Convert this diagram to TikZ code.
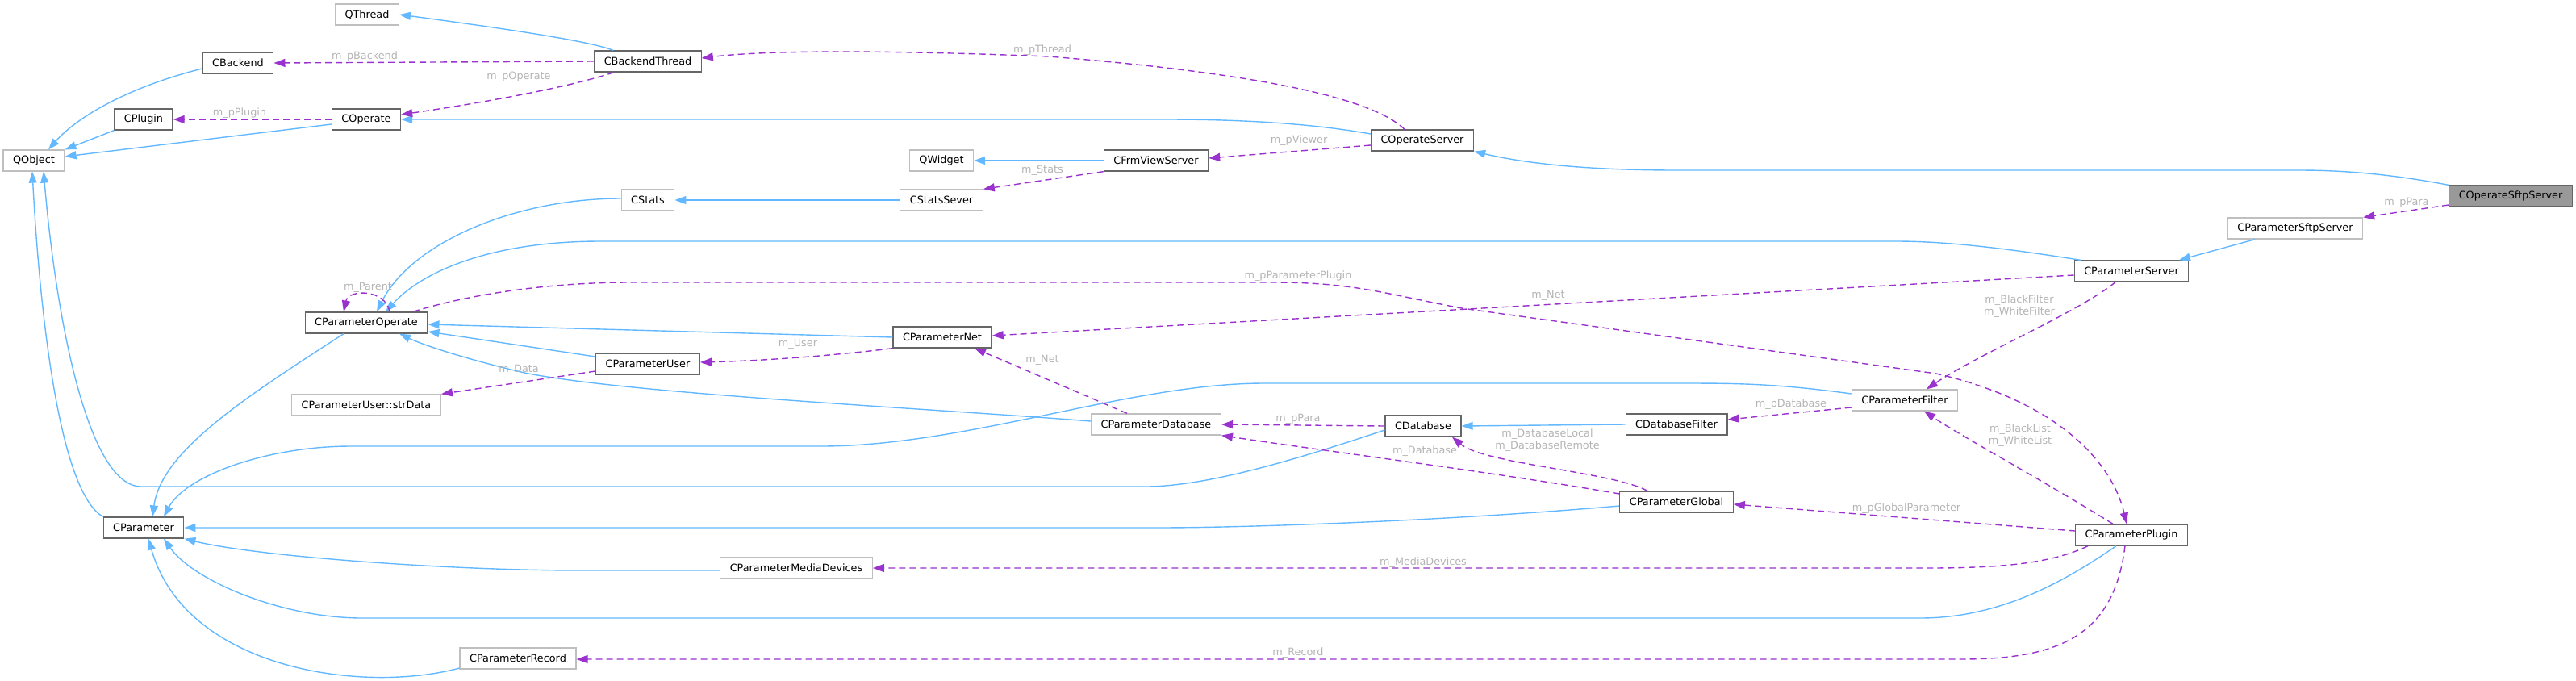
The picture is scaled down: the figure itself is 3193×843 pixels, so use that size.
\documentclass[tikz,border=0pt]{standalone}
\usepackage{fontspec}
\setmainfont{DejaVu Sans}
\usetikzlibrary{arrows.meta}
\definecolor{edgeblue}{HTML}{63B8FF}
\definecolor{edgepurple}{HTML}{9A32CD}
\definecolor{tagcolor}{HTML}{B4B4B4}
\definecolor{darkline}{HTML}{666666}
\definecolor{lightline}{HTML}{BFBFBF}
\definecolor{selffill}{HTML}{999999}

\tikzstyle{box} = [rectangle, draw=lightline, fill=white, line width=0.65pt, minimum height=13pt, inner xsep=6pt, inner ysep=0pt, font=\fontsize{6.4}{7.6}\selectfont]
\tikzstyle{docbox} = [box, draw=darkline]
\tikzstyle{inherit} = [draw=edgeblue, line width=0.7pt, -{Triangle[length=7pt,width=5pt]}]
\tikzstyle{uses} = [draw=edgepurple, line width=0.7pt, dash pattern=on 4pt off 2.5pt, -{Triangle[length=7pt,width=5pt]}]
\tikzstyle{tag} = [text=tagcolor, inner sep=0pt, align=center, font=\fontsize{6.4}{7.6}\selectfont]

\begin{document}
\begin{tikzpicture}[x=0.5pt,y=-0.5pt]
\useasboundingbox (0,0) rectangle (3193,843);

\node (qthread) [box] at (455,18) {QThread};
\node (cbackend) [docbox] at (295,78) {CBackend};
\node (cbackendthread) [docbox] at (803,76) {CBackendThread};
\node (cplugin) [docbox] at (178,148) {CPlugin};
\node (coperate) [docbox] at (454,148) {COperate};
\node (qobject) [box] at (42,199) {QObject};
\node (coperateserver) [docbox] at (1763,174) {COperateServer};
\node (qwidget) [box] at (1167,199) {QWidget};
\node (cfrmviewserver) [docbox] at (1433,199) {CFrmViewServer};
\node (cstatssever) [box] at (1167,248) {CStatsSever};
\node (cstats) [box] at (803,248) {CStats};
\node (coperatesftpserver) [docbox, fill=selffill] at (3112,243) {COperateSftpServer};
\node (cparametersftpserver) [box] at (2845,283) {CParameterSftpServer};
\node (cparameterserver) [docbox] at (2642,336) {CParameterServer};
\node (cparameteroperate) [docbox] at (454,400) {CParameterOperate};
\node (cparameternet) [docbox] at (1168,418) {CParameterNet};
\node (cparameteruser) [docbox] at (803,451) {CParameterUser};
\node (strdata) [box] at (454,502) {CParameterUser::strData};
\node (cparameterfilter) [box] at (2361,496) {CParameterFilter};
\node (cparameterdatabase) [box] at (1433,526) {CParameterDatabase};
\node (cdatabase) [docbox] at (1764,528) {CDatabase};
\node (cdatabasefilter) [docbox] at (2078,526) {CDatabaseFilter};
\node (cparameterglobal) [docbox] at (2078,622) {CParameterGlobal};
\node (cparameter) [docbox] at (178,654) {CParameter};
\node (cparameterplugin) [docbox] at (2642,663) {CParameterPlugin};
\node (cparametermediadevices) [box] at (987,704) {CParameterMediaDevices};
\node (cparameterrecord) [box] at (642,816) {CParameterRecord};

% inheritance
\draw [inherit] (760,0 |- cbackendthread.north) .. controls (730,50) and (600,32) .. (qthread.east);
\draw [inherit] (cbackend.west |- 0,85) .. controls (170,105) and (100,140) .. (60,0 |- qobject.north);
\draw [inherit] (cplugin.south west) -- (qobject.north east);
\draw [inherit] (coperate.west |- 0,154) -- (qobject.east |- 0,194);
\draw [inherit] (coperateserver.west |- 0,166) .. controls (1620,152) and (1530,148) .. (1445,148) -- (coperate.east);
\draw [inherit] (cfrmviewserver.west) -- (qwidget.east);
\draw [inherit] (cstatssever.west) -- (cstats.east);
\draw [inherit] (coperatesftpserver.north west) .. controls (2960,215) and (2900,211) .. (2850,211) -- (2080,211) .. controls (1950,211) and (1880,200) .. (coperateserver.south east);
\draw [inherit] (cstats.west |- 0,246) .. controls (640,246) and (510,300) .. (467,0 |- cparameteroperate.north);
\draw [inherit] (2579,0 |- cparameterserver.north) .. controls (2500,310) and (2420,299) .. (2350,299) -- (740,299) .. controls (600,300) and (520,340) .. (478,0 |- cparameteroperate.north);
\draw [inherit] (cparameternet.west) -- (cparameteroperate.east |- 0,402);
\draw [inherit] (cparameteruser.west |- 0,442) -- (cparameteroperate.east |- 0,411);
\draw [inherit] (cparameterdatabase.west |- 0,522) .. controls (1150,506) and (780,488) .. (650,462) .. controls (590,448) and (530,430) .. (495,0 |- cparameteroperate.south);
\draw [inherit] (2795,0 |- cparametersftpserver.south) -- (2701,0 |- cparameterserver.north);
\draw [inherit] (426,0 |- cparameteroperate.south) .. controls (300,495) and (200,560) .. (189,0 |- cparameter.north);
\draw [inherit] (cparameterfilter.west |- 0,488) .. controls (2200,475) and (2150,475) .. (2080,475) -- (1567,475) .. controls (1400,475) and (1200,553) .. (1017,553) -- (435,553) .. controls (330,553) and (230,590) .. (203,0 |- cparameter.north);
\draw [inherit] (cparameter.north west) .. controls (75,610) and (50,400) .. (40,0 |- qobject.south);
\draw [inherit] (cdatabase.west |- 0,533) .. controls (1620,565) and (1500,603) .. (1420,603) -- (175,603) .. controls (110,603) and (70,400) .. (54,0 |- qobject.south);
\draw [inherit] (cparameterglobal.west |- 0,627) .. controls (1800,645) and (1550,654) .. (1434,654) -- (cparameter.east);
\draw [inherit] (cparametermediadevices.west |- 0,707) -- (720,707) .. controls (560,707) and (320,690) .. (cparameter.south east);
\draw [inherit] (2623,0 |- cparameterplugin.south) .. controls (2560,720) and (2480,766) .. (2380,766) -- (449,766) .. controls (350,766) and (240,720) .. (203,0 |- cparameter.south);
\draw [inherit] (cparameterrecord.south west |- 0,828) .. controls (450,860) and (230,830) .. (184,0 |- cparameter.south);
\draw [inherit] (cdatabasefilter.west) -- (cdatabase.east);

% members
\draw [uses] (cbackendthread.west) -- (cbackend.east);
\draw [uses] (761,0 |- cbackendthread.south) .. controls (700,110) and (580,130) .. (coperate.east |- 0,142);
\draw [uses] (coperate.west) -- (cplugin.east);
\draw [uses] (1741,0 |- coperateserver.north) .. controls (1700,120) and (1550,90) .. (1300,70) .. controls (1100,62) and (950,62) .. (cbackendthread.east |- 0,72);
\draw [uses] (coperateserver.west |- 0,180) -- (cfrmviewserver.east |- 0,196);
\draw [uses] (cfrmviewserver.south west) -- (cstatssever.north east);
\draw [uses] (coperatesftpserver.west |- 0,254) -- (cparametersftpserver.north east);
\draw [uses] (483,0 |- cparameteroperate.north) .. controls (478,358) and (432,358) .. (426,0 |- cparameteroperate.north);
\draw [uses] (512,0 |- cparameteroperate.north) .. controls (580,365) and (680,350) .. (780,350) -- (1580,350) .. controls (1680,350) and (1720,365) .. (1812,382) -- (2400,463) .. controls (2560,500) and (2620,580) .. (2636,0 |- cparameterplugin.north);
\draw [uses] (cparameterserver.west |- 0,341) -- (cparameternet.east |- 0,416);
\draw [uses] (cparameternet.south west) .. controls (1040,440) and (950,447) .. (cparameteruser.east |- 0,449);
\draw [uses] (cparameteruser.west |- 0,460) -- (strdata.north east);
\draw [uses] (1397,0 |- cparameterdatabase.north) -- (1208,0 |- cparameternet.south);
\draw [uses] (cdatabase.west) -- (cparameterdatabase.east);
\draw [uses] (cparameterglobal.west |- 0,612) .. controls (1850,585) and (1650,560) .. (cparameterdatabase.south east);
\draw [uses] (2042,0 |- cparameterglobal.north) .. controls (2000,585) and (1840,575) .. (1800,0 |- cdatabase.south);
\draw [uses] (cparameterfilter.west |- 0,505) -- (cdatabasefilter.east |- 0,520);
\draw [uses] (2622,0 |- cparameterserver.south) .. controls (2580,385) and (2450,440) .. (2388,0 |- cparameterfilter.north);
\draw [uses] (2619,0 |- cparameterplugin.north) .. controls (2540,600) and (2430,540) .. (2385,0 |- cparameterfilter.south);
\draw [uses] (cparameterplugin.west |- 0,658) -- (cparameterglobal.east |- 0,625);
\draw [uses] (2588,0 |- cparameterplugin.south) .. controls (2540,700) and (2470,704) .. (2388,704) -- (cparametermediadevices.east);
\draw [uses] (2634,0 |- cparameterplugin.south) .. controls (2620,790) and (2550,817) .. (2430,817) -- (cparameterrecord.east |- 0,817);

\node (tbackend) [tag] at (452,70) {m\_pBackend};
\node (toperate) [tag] at (643,95) {m\_pOperate};
\node (tplugin) [tag] at (297,140) {m\_pPlugin};
\node (tthread) [tag] at (1292,62) {m\_pThread};
\node (tviewer) [tag] at (1610,174) {m\_pViewer};
\node (tstats) [tag] at (1292,211) {m\_Stats};
\node (tsftppara) [tag] at (2983,251) {m\_pPara};
\node (tparent) [tag] at (456,356) {m\_Parent};
\node (tparaplugin) [tag] at (1609,342) {m\_pParameterPlugin};
\node (tservernet) [tag] at (1919,366) {m\_Net};
\node (tuser) [tag] at (989,426) {m\_User};
\node (tdata) [tag] at (643,458) {m\_Data};
\node (tdbnet) [tag] at (1292,446) {m\_Net};
\node (tdbpara) [tag] at (1609,519) {m\_pPara};
\node (tdatabase) [tag] at (1766,559) {m\_Database};
\node (tlocal) [tag] at (1918,546) {m\_DatabaseLocal\\m\_DatabaseRemote};
\node (tpdatabase) [tag] at (2220,501) {m\_pDatabase};
\node (tfilter) [tag] at (2503,380) {m\_BlackFilter\\m\_WhiteFilter};
\node (tlist) [tag] at (2504,540) {m\_BlackList\\m\_WhiteList};
\node (tglobal) [tag] at (2363,630) {m\_pGlobalParameter};
\node (tmedia) [tag] at (1764,697) {m\_MediaDevices};
\node (trecord) [tag] at (1609,809) {m\_Record};
\end{tikzpicture}
\end{document}
